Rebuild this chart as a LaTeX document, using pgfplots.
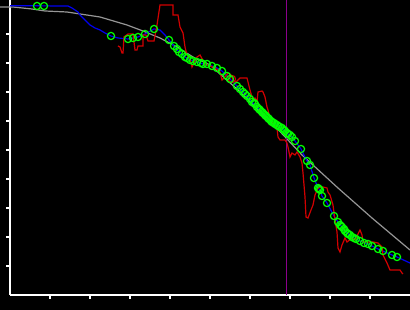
\documentclass[border=0pt]{standalone}
\usepackage{pgfplots}
\pgfplotsset{compat=1.18}
\definecolor{grayc}{RGB}{150,150,150}
\definecolor{bluec}{RGB}{0,0,240}
\definecolor{redc}{RGB}{210,0,0}
\definecolor{greenc}{RGB}{0,255,0}
\definecolor{purplec}{RGB}{140,0,140}
\begin{document}
\begin{tikzpicture}[x=1pt,y=1pt]
\path[use as bounding box, fill=black] (0,0) rectangle (410,310);
\begin{axis}[
  at={(10pt,15pt)}, anchor=south west,
  width=400pt, height=295pt, scale only axis,
  xmin=10, xmax=410, ymin=0, ymax=295,
  axis x line*=bottom, axis y line*=left,
  axis line style={white, line width=1.2pt},
  xtick={50,90,...,370}, ytick={29,58,87,116,145,174,203,232,261},
  xticklabels={}, yticklabels={},
  tick style={white, line width=1.2pt},
  tick align=outside, major tick length=4pt,
  clip=false,
]
% gray reference curve
\addplot[grayc, line width=1.2pt] coordinates {
(0,288) (13,288) (32,286) (45,284) (67,283) (100,278) (127,270) (143,264)
(160,257) (177,248) (193,238) (210,230) (238,205) (272,172) (302,140)
(338,107) (372,77) (410,45)};
% purple vertical
\addplot[purplec, line width=1.3pt] coordinates {(286.5,0) (286.5,295)};
% blue line
\addplot[bluec, line width=1.2pt] coordinates {
(10,289.3) (68,289) (72,287) (78,283) (80,280) (85,275) (90,270) (95,267)
(100,265) (105,262) (111,259) (118,257) (128,256) (133,257) (138,258)
(145,261) (154,266) (160,265) (165,260) (169,255) (174,249) (179,243)
(182,241) (185,238) (190,235) (197,233) (203,231) (212,229) (217,227)
(222,224) (227,219) (230,216) (237,209) (243,203) (247,199) (252,193)
(257,188) (263,182) (269,176) (275,171) (282,167) (288,161) (292,158)
(295,154) (301,146) (307,134) (310,130) (314,117) (318,107) (320,105)
(322,99) (327,92) (334,79) (338,73) (345,64) (352,58) (360,54) (368,51)
(378,46) (392,40) (397,38) (410,32)};
% red line
\addplot[redc, line width=1.2pt] coordinates {
(118,249) (120,248) (122,242) (123,242) (124,258) (128,261) (133,261)
(135,245) (137,245) (138,249) (143,249) (143,260) (146,260) (148,254)
(154,254) (157,270) (160,290) (173,290) (173,280) (178,280) (180,268)
(183,262) (185,248) (187,240) (190,237) (192,228) (197,238) (200,240)
(205,231) (210,229) (215,227) (220,223) (222,215) (225,218) (228,222)
(231,220) (233,215) (236,213) (240,217) (243,217) (247,217) (248,213)
(250,205) (252,198) (253,195) (255,197) (257,193) (258,203) (262,204)
(263,203) (265,198) (267,188) (268,185) (270,177) (273,172) (277,167)
(278,158) (280,155) (285,155) (287,152) (288,148) (290,138) (292,142)
(295,140) (297,143) (300,138) (302,132) (303,122) (305,98) (306,78)
(308,77) (311,85) (313,90) (315,100) (318,107) (323,108) (327,107)
(328,103) (330,100) (333,90) (335,75) (337,63) (338,47) (340,43)
(342,50) (345,57) (347,53) (352,57) (355,55) (360,65) (362,60) (363,53)
(373,53) (378,52) (382,48) (383,40) (387,32) (390,25) (400,25) (402,22)
(403,21)};
% red circle
\addplot[only marks, mark=o, mark size=3.6pt, mark options={redc, line width=1.1pt}] coordinates {(232,216)};
% green circles
\addplot[only marks, mark=o, mark size=3.6pt, mark options={greenc, line width=1.2pt}] coordinates {
(37,289) (44,289) (111,259) (128,256) (133,257) (138,258) (145,261) (154,266)
(169,255) (174,249) (177,246) (179,243) (182,241) (185,238) (187,237) (190,235)
(193,234) (197,233) (201,232) (203,231) (207,231) (212,229) (217,227)
(222,224) (227,219) (230,216) (237,209) (240,206) (243,203) (245,201) (247,199)
(250,196) (252,193) (254,192) (255,191) (257,188) (259,186) (260,185)
(262,183) (263,182) (265,180) (266,179) (268,177) (269,176) (271,174)
(272,173) (274,172) (275,171) (277,170) (278,169) (280,168) (282,167)
(284,165) (285,164) (287,162) (288,161) (290,160) (292,158) (295,154)
(301,146) (307,134) (310,130) (314,117) (318,107) (319,106) (320,105) (322,99)
(327,92) (334,79) (338,73) (340,70) (341,69) (342,68) (344,66) (345,64)
(347,62) (348,61) (350,60) (352,58) (354,57) (356,56) (360,54) (364,52)
(368,51) (372,49) (378,46) (383,44) (392,40) (397,38)};
\end{axis}
\end{tikzpicture}
\end{document}
